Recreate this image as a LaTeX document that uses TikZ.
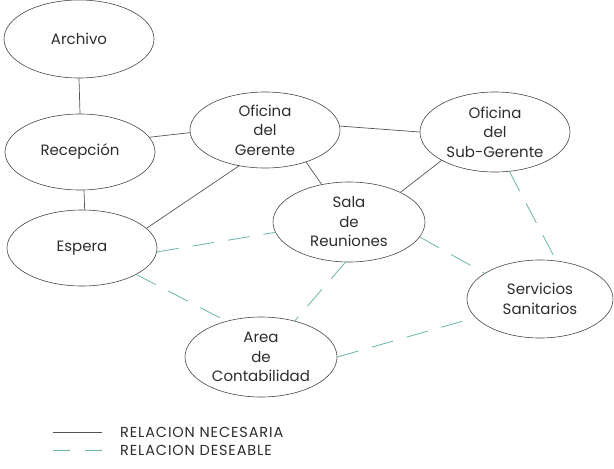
\documentclass[tikz,border=0pt]{standalone}
\usepackage{fontspec}
\setmainfont{Poppins}
\newfontfamily\legfont[LetterSpace=6]{Poppins}
\usetikzlibrary{shapes.geometric}
\definecolor{txtc}{RGB}{45,45,45}
\definecolor{solidc}{RGB}{85,85,85}
\definecolor{dashc}{RGB}{105,180,170}
\definecolor{edgec}{RGB}{70,70,70}
\tikzset{
  room/.style={ellipse, draw=edgec, line width=0.6pt, inner sep=0pt,
    minimum width=#1, text=txtc, align=center,
    font=\fontsize{15}{19.5}\selectfont},
  nec/.style={draw=solidc, line width=0.7pt},
  des/.style={draw=dashc, line width=0.8pt, dash pattern=on 22pt off 14pt},
  legtext/.style={anchor=west, text=txtc, inner sep=0pt, font=\legfont\fontsize{14.5}{16}\selectfont}
}
\begin{document}
\begin{tikzpicture}[x=1pt,y=-1pt]
\useasboundingbox (0,0) rectangle (614,469);
\node[room=150pt, minimum height=78pt] (arch) at (79,39) {Archivo};
\node[room=150pt, minimum height=76pt] (rec) at (80,152) {Recepción};
\node[room=150pt, minimum height=76pt] (esp) at (82,248) {Espera};
\node[room=150pt, minimum height=76pt] (ger) at (265,130) {Oficina\\del\\Gerente};
\node[room=150pt, minimum height=80pt] (sub) at (495,132) {Oficina\\del\\Sub-Gerente};
\node[room=152pt, minimum height=80pt] (sala) at (349,222) {Sala\\de\\Reuniones};
\node[room=146pt, minimum height=78pt] (serv) at (540,299) {Servicios\\Sanitarios};
\node[room=152pt, minimum height=80pt] (con) at (261,357) {Area\\de\\Contabilidad};
% necessary relations
\draw[nec] (arch.south) -- (rec.north);
\draw[nec] (rec.12) -- (ger.182);
\draw[nec] (rec.276) -- (esp.86);
\draw[nec] (esp.17) -- (ger.234);
\draw[nec] (ger.3) -- (sub.180);
\draw[nec] (ger.322) -- (sala.126);
\draw[nec] (sub.208) -- (sala.30);
% desirable relations
\draw[des] (esp.357) -- (sala.188);
\draw[des] (esp.334) -- (con.134);
\draw[des] (sala.265) -- (con.47);
\draw[des] (con.0) -- (serv.196);
\draw[des] (sala.348) -- (serv.155);
\draw[des] (sub.290) -- (serv.67);
% legend
\coordinate (l1a) at (53,432);
\coordinate (l1b) at (102,432);
\coordinate (l2a) at (53,450);
\coordinate (l2b) at (102,450);
\draw[nec] (l1a) -- (l1b);
\draw[draw=dashc, line width=0.8pt, dash pattern=on 17pt off 15pt] (l2a) -- (l2b);
\node[legtext] (lt1) at (120,432) {RELACION NECESARIA};
\node[legtext] (lt2) at (120,450) {RELACION DESEABLE};
\end{tikzpicture}
\end{document}
